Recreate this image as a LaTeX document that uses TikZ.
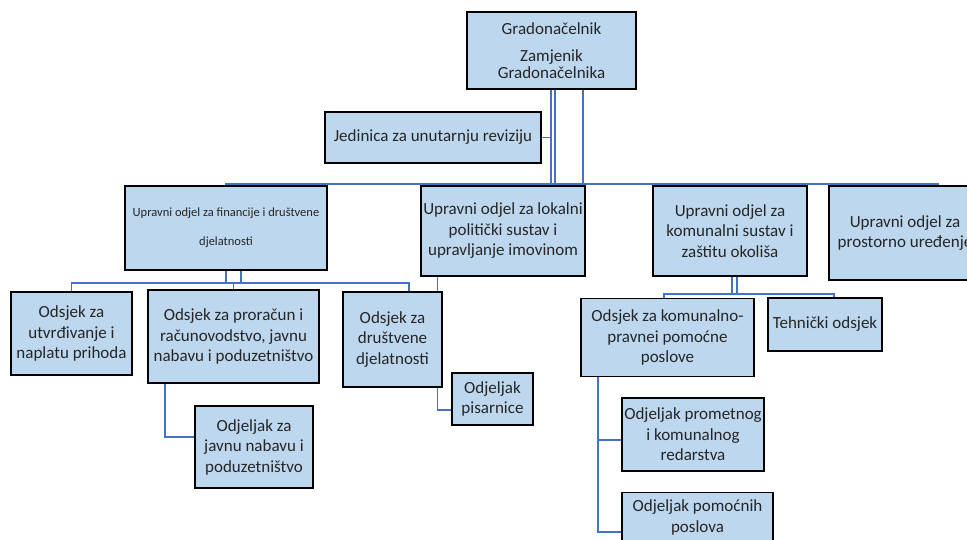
\documentclass[tikz,border=0pt]{standalone}
\usepackage{fontspec}
\setmainfont{Carlito}
\usetikzlibrary{backgrounds}
\definecolor{boxblue}{RGB}{189,215,238}
\definecolor{linkblue}{RGB}{68,114,196}
\definecolor{inktext}{RGB}{38,38,38}
\begin{document}
\begin{tikzpicture}[x=1pt,y=1pt,
    box/.style={draw=black,line width=1.7pt,fill=boxblue,text=inktext,align=center,inner sep=0.5pt,font=\fontsize{17}{20.5}\selectfont},
    conn/.style={draw=linkblue,line width=1.6pt}]
    \useasboundingbox (0,0) rectangle (967,-540);
        % top
        \draw (551.5,-50.5) node [box,minimum width=169pt,minimum height=77pt,font=\fontsize{17}{17}\selectfont] (gr) {Gradonačelnik\\[10pt]Zamjenik\\Gradonačelnika};
        \draw (433,-137.5) node [box,minimum width=216pt,minimum height=51pt] (jed) {Jedinica za unutarnju reviziju};
        % upravni odjeli
        \draw (226,-228) node [box,minimum width=202pt,minimum height=84pt,font=\fontsize{12.5}{29}\selectfont] (fin) {Upravni odjel za financije i društvene\\djelatnosti};
        \draw (503,-231) node [box,minimum width=164pt,minimum height=90pt] (lok) {Upravni odjel za lokalni\\politički sustav i\\upravljanje imovinom};
        \draw (730,-231) node [box,minimum width=154pt,minimum height=90pt] (kom) {Upravni odjel za\\komunalni sustav i\\zaštitu okoliša};
        \draw (905,-233) node [box,minimum width=152pt,minimum height=94pt] (pro) {Upravni odjel za\\prostorno uređenje};
        % odsjeci
        \draw (71.5,-333.5) node [box,minimum width=121pt,minimum height=83pt] (utv) {Odsjek za\\utvrđivanje i\\naplatu prihoda};
        \draw (233.5,-336.5) node [box,minimum width=171pt,minimum height=93pt] (prr) {Odsjek za proračun i\\računovodstvo, javnu\\nabavu i poduzetništvo};
        \draw (392.5,-339.5) node [box,minimum width=99pt,minimum height=95pt] (dru) {Odsjek za\\društvene\\djelatnosti};
        \draw (667.5,-337.5) node [box,minimum width=173pt,minimum height=78pt] (kpp) {Odsjek za komunalno-\\pravnei pomoćne\\poslove};
        \draw (825,-324.5) node [box,minimum width=114pt,minimum height=53pt] (teh) {Tehnički odsjek};
        % odjeljci
        \draw (254,-447) node [box,minimum width=118pt,minimum height=82pt] (jnp) {Odjeljak za\\javnu nabavu i\\poduzetništvo};
        \draw (492.5,-399) node [box,minimum width=81pt,minimum height=52pt] (pis) {Odjeljak\\pisarnice};
        \draw (693,-434.5) node [box,minimum width=142pt,minimum height=73pt] (red) {Odjeljak prometnog\\i komunalnog\\redarstva};
        \draw (697.5,-517.5) node [box,minimum width=151pt,minimum height=50pt] (pom) {Odjeljak pomoćnih\\poslova};
        % veze
        \coordinate (busL) at (226,-184);
        \coordinate (busR) at (939,-184);
        \coordinate (finbus) at (234,-283);
        \coordinate (kombus) at (730,-294);
        \begin{scope}[on background layer]
        \draw [conn] ([xshift=-0.5pt]gr.south) -- ([xshift=-0.5pt]gr.south |- busR);
        \draw [conn] ([xshift=3.5pt]gr.south) -- ([xshift=3.5pt]gr.south |- busR);
        \draw [conn] ([xshift=31.5pt]gr.south) -- ([xshift=31.5pt]gr.south |- busR);
        \draw [conn] (jed.east) -- (jed.east -| gr.south);
        \draw [conn] (fin.north) -- (busL) -- (busR);
        \draw [conn] (lok.north) -- (lok.north |- busR);
        \draw [conn] (kom.north) -- (kom.north |- busR);
        \draw [conn] (pro.north) -- (pro.north |- busR);
        \draw [conn] (fin.south) -- (fin.south |- finbus);
        \draw [conn] ([xshift=15pt]fin.south) -- ([xshift=15pt]fin.south |- finbus);
        \draw [conn] (utv.north) |- (finbus) -| ([xshift=16.5pt]dru.north);
        \draw [conn] (prr.north) -- (prr.north |- finbus);
        \draw [conn] ([xshift=-68.5pt]prr.south) |- ([yshift=10pt]jnp.west);
        \draw [conn] ([xshift=-65.5pt]lok.south) |- ([yshift=-11pt]pis.west);
        \draw [conn] ([xshift=2pt]kom.south) -- ([xshift=2pt]kom.south |- kombus);
        \draw [conn] ([xshift=7pt]kom.south) -- ([xshift=7pt]kom.south |- kombus);
        \draw [conn] ([xshift=-3.5pt]kpp.north) |- (kombus) -| ([xshift=9pt]teh.north);
        \draw [conn] ([xshift=-69.5pt]kpp.south) |- ([yshift=-5.5pt]red.west);
        \draw [conn] ([xshift=-69.5pt]kpp.south) |- ([yshift=-14.5pt]pom.west);
        \end{scope}
    \end{tikzpicture}
\end{document}
